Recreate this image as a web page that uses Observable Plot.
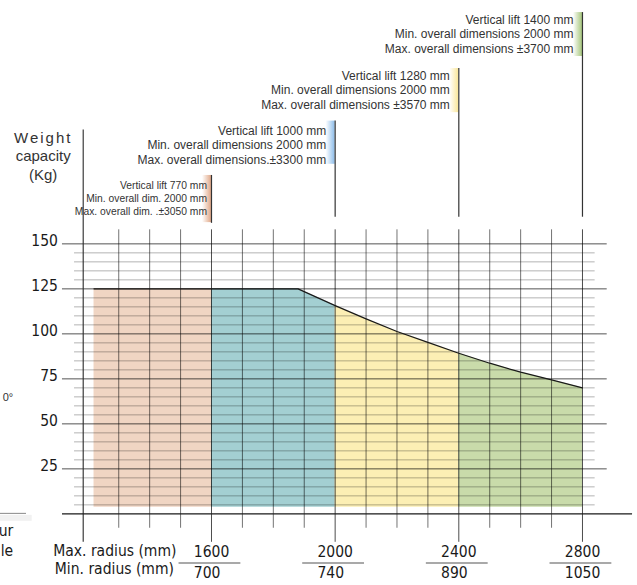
<!DOCTYPE html>
<html><head><meta charset="utf-8">
<script src="https://cdn.jsdelivr.net/npm/d3@7"></script>
<script src="https://cdn.jsdelivr.net/npm/@observablehq/plot@0.6"></script>
<style>body{margin:0;background:#fff} svg{display:block}</style>
</head><body><div id="chart"></div>
<script>
// ---- data ----
const radiusTicks = [1600, 2000, 2400, 2800];
const maxRadiusLabels = ["1600", "2000", "2400", "2800"];
const minRadiusLabels = ["700", "740", "890", "1050"];
const capacityTicks = [25, 50, 75, 100, 125, 150];
const curveRadius = [1220, 1600, 1880, 2000, 2100, 2200, 2300, 2400, 2500, 2600, 2700, 2800];
const curveCapacity = [125, 125, 125, 115.7, 108.3, 101.3, 95.3, 89.2, 83.7, 78.7, 74.4, 70];
const zoneStart = [1220, 1600, 2000, 2400];
const zoneEnd = [1600, 2000, 2400, 2800];
const verticalLift = ["Vertical lift 770 mm", "Vertical lift 1000 mm", "Vertical lift 1280 mm", "Vertical lift 1400 mm"];
const minDimensions = ["Min. overall dim. 2000 mm", "Min. overall dimensions 2000 mm", "Min. overall dimensions 2000 mm", "Min. overall dimensions 2000 mm"];
const maxDimensions = ["Max. overall dim. .±3050 mm", "Max. overall dimensions.±3300 mm", "Max. overall dimensions ±3570 mm", "Max. overall dimensions ±3700 mm"];

// ---- styles / layout ----
const zoneColors = ["#f0d5c3", "#a3cfd2", "#fcefb4", "#c9dbaa"];
const markerColors = ["#e0a888", "#8dbdea", "#fae698", "#a6c67c"];
const xDomain = [917.5, 2978];
const yDomain = [-39.8, 285.2];
const calloutMid = [175.6, 205.2, 235.6, 266.7];
const calloutTop = [188, 218.2, 247.4, 278.5];
const calloutBarBottom = [161.8, 194.2, 222.9, 254.1];
const calloutLineBottom = [161.4, 164.8, 164.8, 164.8];
const fillBase = 3.7;
const axisX = 1185;
const numFont = "DejaVu Sans Condensed, DejaVu Sans, sans-serif";
const txtFont = "Liberation Sans, Arial, Helvetica, sans-serif";

const curve = curveRadius.map((r, i) => ({r, c: curveCapacity[i]}));
const zones = zoneStart.flatMap((s, z) =>
  curve.filter(d => d.r >= s && d.r <= zoneEnd[z]).map(d => ({...d, fill: zoneColors[z]})));
const minorY = d3.range(5, 150, 5).filter(v => v % 25);
const minorX = d3.range(1300, 2800, 100).filter(v => v % 400);
const idx = [0, 1, 2, 3];

const svg = Plot.plot({
  width: 637, height: 585,
  marginLeft: 0, marginRight: 0, marginTop: 0, marginBottom: 0,
  x: {domain: xDomain, axis: null},
  y: {domain: yDomain, axis: null},
  color: {type: "identity"},
  style: {fontFamily: txtFont, background: "white", overflow: "visible"},
  marks: [
    Plot.areaY(zones, {x: "r", y1: fillBase, y2: "c", fill: "fill", z: "fill"}),
    Plot.ruleY(minorY, {x1: 1157, x2: 2841, stroke: "#000", strokeOpacity: 0.3}),
    Plot.ruleX(minorX, {y1: -8, y2: 157.8, stroke: "#000", strokeOpacity: 0.55}),
    Plot.ruleY(capacityTicks, {x1: 1118, x2: 2880, stroke: "#000", strokeOpacity: 0.68}),
    Plot.ruleX(radiusTicks, {y1: -15.8, y2: 157.8, stroke: "#000", strokeOpacity: 0.7}),
    Plot.ruleX([axisX], {y1: -15.8, y2: 213.2, stroke: "#2a2a2a", strokeWidth: 1.1}),
    Plot.ruleY([0], {x1: 1118, x2: 2962, stroke: "#1a1a1a", strokeWidth: 1.1}),
    Plot.line(curve, {x: "r", y: "c", stroke: "#1a1a1a", strokeWidth: 1.2}),
    // callout markers
    Plot.rect(idx, {x1: i => radiusTicks[i] - 29, x2: i => radiusTicks[i], y1: i => calloutBarBottom[i], y2: i => calloutTop[i], fill: i => `url(#grad${i})`}),
    Plot.ruleX(idx, {x: i => radiusTicks[i], y1: i => calloutLineBottom[i], y2: i => calloutTop[i], stroke: "#333", strokeWidth: 1.2}),
    Plot.text([0], {x: i => radiusTicks[i], y: i => calloutMid[i], text: i => [verticalLift[i], minDimensions[i], maxDimensions[i]].join("\n"),
      textAnchor: "end", dx: -4.5, fontSize: 10.3, lineHeight: 1.29, fill: "#333", fontFamily: txtFont}),
    Plot.text([1, 2, 3], {x: i => radiusTicks[i], y: i => calloutMid[i], text: i => [verticalLift[i], minDimensions[i], maxDimensions[i]].join("\n"),
      textAnchor: "end", dx: -9, fontSize: 12, lineHeight: 1.2, fill: "#333", fontFamily: txtFont}),
    // y axis labels
    Plot.text(capacityTicks, {x: 1118, y: d => d, text: d => String(d), textAnchor: "end", dx: -4.5, dy: -3, fontSize: 15.5, fill: "#1a1a1a", fontFamily: numFont}),
    Plot.text(["Weight\ncapacity\n(Kg)"], {x: 1055.6, y: 199.1, text: d => d, fontSize: 15, lineHeight: 1.25, fill: "#333", fontFamily: txtFont}),
    // x axis labels
    Plot.text(["Max. radius (mm)"], {x: radiusTicks[0], y: -20.4, text: d => d, textAnchor: "end", dx: -35, fontSize: 15.5, fill: "#1a1a1a", fontFamily: numFont}),
    Plot.text(["Min. radius (mm)"], {x: radiusTicks[0], y: -30.8, text: d => d, textAnchor: "end", dx: -37.5, fontSize: 15.5, fill: "#1a1a1a", fontFamily: numFont}),
    Plot.text(idx, {x: i => radiusTicks[i], y: -21.3, text: i => maxRadiusLabels[i], textAnchor: "start", dx: -17.7, fontSize: 15.5, fill: "#1a1a1a", fontFamily: numFont}),
    Plot.text(idx, {x: i => radiusTicks[i], y: -33, text: i => minRadiusLabels[i], textAnchor: "start", dx: -17.7, fontSize: 15.5, fill: "#1a1a1a", fontFamily: numFont}),
    Plot.ruleY(idx, {y: -27.3, x1: i => radiusTicks[i] - 105, x2: i => radiusTicks[i] + 95, stroke: "#555", strokeWidth: 1.2}),
    // fragments of a neighbouring element at the left edge
    Plot.ruleY([0], {x1: xDomain[0], x2: 1020, stroke: "#f1f1f1", strokeWidth: 6, dy: 4}),
    Plot.ruleY([0], {x1: xDomain[0], x2: 1001.6, stroke: "#888", dy: -0.5}),
    Plot.text(["0°"], {x: 958.6, y: 64.8, text: d => d, textAnchor: "end", fontSize: 11, fill: "#333", fontFamily: txtFont}),
    Plot.text(["ur", "le"], {x: 958.6, y: (d, i) => [-9.3, -20.4][i], text: d => d, textAnchor: "end", fontSize: 15.5, fill: "#1a1a1a", fontFamily: numFont})
  ]
});

const defs = d3.select(svg).insert("defs", ":first-child");
markerColors.forEach((c, i) => {
  const g = defs.append("linearGradient").attr("id", "grad" + i).attr("x1", 0).attr("x2", 1).attr("y1", 0).attr("y2", 0);
  g.append("stop").attr("offset", 0).attr("stop-color", c).attr("stop-opacity", 0);
  g.append("stop").attr("offset", 1).attr("stop-color", c).attr("stop-opacity", 1);
});
d3.select(svg).selectAll("text, tspan").filter(function() { return this.textContent === "Weight"; }).attr("letter-spacing", 2);
document.getElementById("chart").append(svg);
</script>
</body></html>
